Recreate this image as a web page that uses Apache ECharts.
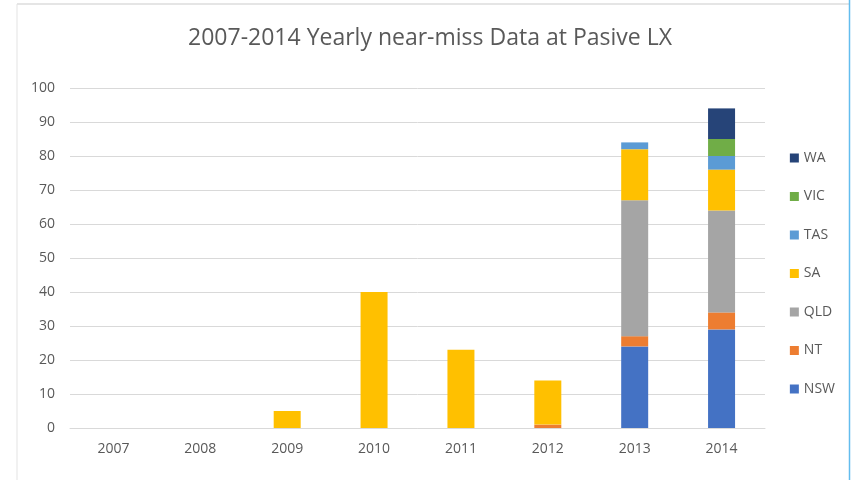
<!DOCTYPE html>
<html><head><meta charset="utf-8">
<script src="https://cdn.jsdelivr.net/npm/echarts@6/dist/echarts.min.js"></script>
<style>html,body{margin:0;padding:0;background:#fff}#c{width:860px;height:480px}</style>
</head><body><div id="c"></div>
<script>
const years = ['2007','2008','2009','2010','2011','2012','2013','2014'];
const NSW = [0,0,0,0,0,0,24,29];
const NT  = [0,0,0,0,0,1,3,5];
const QLD = [0,0,0,0,0,0,40,30];
const SA  = [0,0,5,40,23,13,15,12];
const TAS = [0,0,0,0,0,0,2,4];
const VIC = [0,0,0,0,0,0,0,5];
const WA  = [0,0,0,0,0,0,0,9];
const yTicks = [0,10,20,30,40,50,60,70,80,90,100];

const seriesDefs = [
  ['NSW', NSW, '#4472C4'],
  ['NT', NT, '#ED7D31'],
  ['QLD', QLD, '#A5A5A5'],
  ['SA', SA, '#FFC000'],
  ['TAS', TAS, '#5B9BD5'],
  ['VIC', VIC, '#70AD47'],
  ['WA', WA, '#264478']
];
const chart = echarts.init(document.getElementById('c'));
chart.setOption({
  animation:false,
  textStyle:{fontFamily:'Open Sans'},
  title:{text:'2007-2014 Yearly near-miss Data at Pasive LX', left:'center', top:22,
    textStyle:{fontFamily:'Open Sans', fontWeight:'normal', fontSize:23, color:'#595959'}},
  graphic:[
    {type:'line', shape:{x1:17,y1:4,x2:849,y2:4}, style:{stroke:'#dcdcdc', lineWidth:1.5}},
    {type:'line', shape:{x1:17,y1:4,x2:17,y2:480}, style:{stroke:'#e3e3e3', lineWidth:1}},
    {type:'line', shape:{x1:849.5,y1:0,x2:849.5,y2:480}, style:{stroke:'#63bdee', lineWidth:1.5}}
  ],
  legend:{orient:'vertical', right:20, top:146, itemGap:24.5, itemWidth:9, itemHeight:9,
    icon:'rect', textStyle:{color:'#595959', fontSize:14, fontFamily:'Open Sans'},
    data:seriesDefs.map(s=>s[0]).reverse()},
  grid:{left:70, right:95, top:88, bottom:52},
  xAxis:{type:'category', data:years,
    axisLine:{lineStyle:{color:'#d9d9d9'}}, axisTick:{show:false},
    axisLabel:{color:'#595959', fontSize:14, margin:14}},
  yAxis:{type:'value', min:0, max:100, interval:10,
    axisLine:{show:false}, axisTick:{show:false},
    splitLine:{lineStyle:{color:'#d9d9d9'}},
    axisLabel:{color:'#595959', fontSize:14, margin:15,
      formatter:v=>yTicks.includes(v)?String(v):''}},
  series: seriesDefs.map(s=>({name:s[0], type:'bar', stack:'all', data:s[1],
    barWidth:27, itemStyle:{color:s[2]}}))
});
</script></body></html>
